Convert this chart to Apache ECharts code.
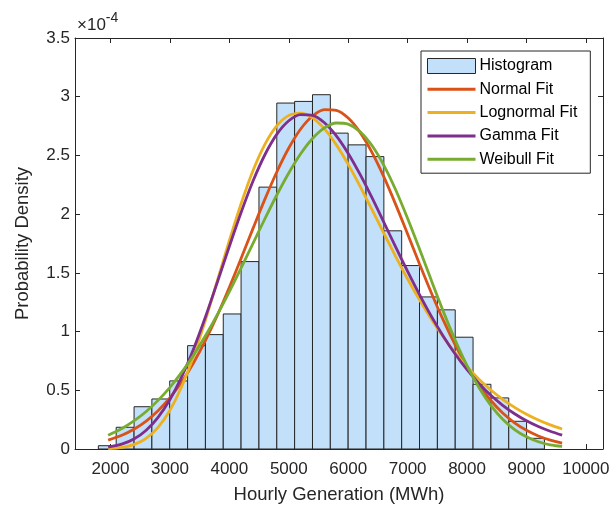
<!DOCTYPE html>
<html><head><meta charset="utf-8">
<script src="https://cdn.jsdelivr.net/npm/echarts@6/dist/echarts.min.js"></script>
<style>html,body{margin:0;padding:0;background:#fff}#c{width:614px;height:516px}</style>
</head><body><div id="c"></div>
<script>
// Histogram bin edges (MWh) and densities (in units of 1e-4)
const binEdges = [1795, 2095, 2396, 2696, 2996, 3297, 3597, 3897, 4197, 4498, 4798, 5098, 5399,
                  5699, 5999, 6300, 6600, 6900, 7200, 7501, 7801, 8101, 8402, 8702, 9002, 9302];
const binHeights = [0.028, 0.185, 0.36, 0.426, 0.58, 0.88, 0.974, 1.15, 1.596, 2.23, 2.946, 2.96, 3.017,
                    2.69, 2.59, 2.49, 1.858, 1.562, 1.295, 1.185, 0.952, 0.551, 0.435, 0.236, 0.091];
// Fitted curves (x in MWh, y in units of 1e-4)
const curveX = [1960, 2200, 2400, 2600, 2800, 3000, 3200, 3400, 3600, 3800, 4000, 4200, 4400,
                4600, 4800, 5000, 5200, 5400, 5600, 5800, 6000, 6200, 6400, 6600, 6800, 7000,
                7200, 7400, 7600, 7800, 8000, 8200, 8400, 8600, 8800, 9000, 9200, 9400, 9600];
const normalFit = [0.076, 0.119, 0.170, 0.238, 0.326, 0.437, 0.573, 0.737, 0.927, 1.141, 1.377, 1.626, 1.881,
                   2.130, 2.361, 2.563, 2.725, 2.836, 2.890, 2.884, 2.818, 2.696, 2.526, 2.317, 2.081, 1.830,
                   1.576, 1.329, 1.097, 0.887, 0.702, 0.544, 0.413, 0.307, 0.223, 0.159, 0.111, 0.076, 0.051];
const lognormalFit = [0.003, 0.014, 0.039, 0.091, 0.184, 0.330, 0.534, 0.796, 1.103, 1.438, 1.776, 2.094, 2.374,
                      2.596, 2.753, 2.841, 2.861, 2.820, 2.726, 2.590, 2.424, 2.237, 2.038, 1.837, 1.639, 1.448,
                      1.270, 1.105, 0.954, 0.819, 0.700, 0.594, 0.502, 0.423, 0.355, 0.296, 0.247, 0.205, 0.170];
const gammaFit = [0.016, 0.043, 0.087, 0.160, 0.270, 0.421, 0.618, 0.856, 1.129, 1.424, 1.726, 2.018, 2.284,
                  2.508, 2.681, 2.795, 2.848, 2.841, 2.778, 2.667, 2.517, 2.338, 2.140, 1.930, 1.719, 1.512,
                  1.314, 1.129, 0.961, 0.809, 0.675, 0.558, 0.457, 0.372, 0.300, 0.240, 0.191, 0.151, 0.118];
const weibullFit = [0.117, 0.177, 0.241, 0.319, 0.414, 0.525, 0.654, 0.801, 0.966, 1.146, 1.340, 1.544, 1.754,
                    1.963, 2.165, 2.351, 2.514, 2.644, 2.734, 2.776, 2.766, 2.702, 2.584, 2.416, 2.206, 1.963,
                    1.703, 1.434, 1.172, 0.927, 0.709, 0.524, 0.372, 0.254, 0.166, 0.104, 0.062, 0.035, 0.022];
const xTickValues = [2000, 3000, 4000, 5000, 6000, 7000, 8000, 9000, 10000];
const seriesNames = ['Histogram', 'Normal Fit', 'Lognormal Fit', 'Gamma Fit', 'Weibull Fit'];

const AX = '#262626';
const FONT = 'Liberation Sans, Arial, Helvetica, sans-serif';
const barFill = '#C3E0FA';
const colors = ['#D95319', '#EDB120', '#7E2F8E', '#77AC30'];
const fits = [normalFit, lognormalFit, gammaFit, weibullFit];

const histData = binHeights.map((h, i) => [binEdges[i], binEdges[i + 1], h]);

const chart = echarts.init(document.getElementById('c'), null, {renderer: 'canvas'});
const xMin = 1402, xMax = 10288;

const baseX = {
  type: 'value', min: xMin, max: xMax,
  axisLine: {show: true, onZero: false, lineStyle: {color: AX, width: 1}},
  splitLine: {show: false},
  axisTick: {show: true, inside: true, length: 5, lineStyle: {color: AX}, customValues: xTickValues},
};
const baseY = {
  type: 'value', min: 0, max: 3.5, interval: 0.5,
  axisLine: {show: true, onZero: false, lineStyle: {color: AX, width: 1}},
  splitLine: {show: false},
  axisTick: {show: true, inside: true, length: 5, lineStyle: {color: AX}},
};

const lineLegend = name => ({name: name, itemStyle: {opacity: 0}, lineStyle: {width: 3}});

const option = {
  animation: false,
  backgroundColor: '#fff',
  textStyle: {fontFamily: FONT},
  grid: {left: 75, top: 38, right: 11, bottom: 67, containLabel: false},
  xAxis: [
    Object.assign({}, baseX, {
      position: 'bottom',
      name: 'Hourly Generation (MWh)', nameLocation: 'middle', nameGap: 36,
      nameTextStyle: {color: AX, fontSize: 18.5, fontFamily: FONT},
      axisLabel: {show: true, color: AX, fontSize: 17, margin: 12, fontFamily: FONT,
                  customValues: xTickValues, formatter: v => String(v)}
    }),
    Object.assign({}, baseX, {position: 'top', axisLabel: {show: false}})
  ],
  yAxis: [
    Object.assign({}, baseY, {
      position: 'left',
      name: 'Probability Density', nameLocation: 'middle', nameGap: 43, nameRotate: 90,
      nameTextStyle: {color: AX, fontSize: 18.5, fontFamily: FONT},
      axisLabel: {show: true, color: AX, fontSize: 17, margin: 5, fontFamily: FONT}
    }),
    Object.assign({}, baseY, {position: 'right', axisLabel: {show: false}})
  ],
  legend: {
    orient: 'vertical', left: 421, top: 51,
    padding: [7, 13, 6, 5], itemGap: 7.3, itemWidth: 48, itemHeight: 15,
    borderColor: AX, borderWidth: 1, backgroundColor: '#fff',
    textStyle: {color: '#000', fontSize: 16, fontFamily: FONT, padding: [0, 0, 0, -1]},
    data: [
      {name: 'Histogram', icon: 'rect', itemStyle: {color: barFill, borderColor: AX, borderWidth: 1}},
      lineLegend('Normal Fit'), lineLegend('Lognormal Fit'), lineLegend('Gamma Fit'), lineLegend('Weibull Fit')
    ]
  },
  graphic: [{
    type: 'text', left: 77, top: 11, z: 10,
    style: {
      text: '{a|×10}{b|-4}',
      rich: {
        a: {fontSize: 17, fill: AX, fontFamily: FONT, padding: [6, 0, 0, 0]},
        b: {fontSize: 14, fill: AX, fontFamily: FONT, verticalAlign: 'top', padding: [0, 0, 8, 0]}
      }
    }
  }],
  series: [
    {
      name: 'Histogram', type: 'custom', z: 1,
      itemStyle: {color: barFill, borderColor: AX},
      encode: {x: [0, 1], y: 2},
      renderItem: function (params, api) {
        const p0 = api.coord([api.value(0), api.value(2)]);
        const p1 = api.coord([api.value(1), 0]);
        return {
          type: 'rect',
          shape: {x: p0[0], y: p0[1], width: p1[0] - p0[0], height: p1[1] - p0[1]},
          style: {fill: barFill, stroke: AX, lineWidth: 1}
        };
      },
      data: histData
    }
  ].concat(fits.map((arr, k) => ({
    name: seriesNames[k + 1], type: 'line', z: 3 + k,
    smooth: 0.3, symbol: 'none', showSymbol: false,
    lineStyle: {color: colors[k], width: 2.8},
    itemStyle: {color: colors[k]},
    data: curveX.map((x, i) => [x, arr[i]])
  })))
};
chart.setOption(option);
</script></body></html>
